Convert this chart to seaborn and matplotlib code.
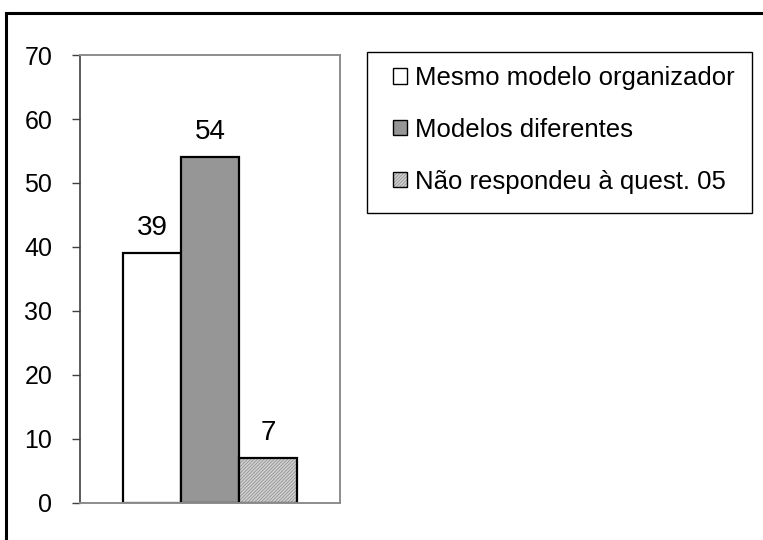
import matplotlib
matplotlib.use("Agg")
import matplotlib.pyplot as plt
import seaborn as sns
import pandas as pd
from matplotlib.patches import Rectangle, Patch

categories = ["Mesmo modelo organizador", "Modelos diferentes", "Não respondeu à quest. 05"]
values = [39, 54, 7]
yticks = [0, 10, 20, 30, 40, 50, 60, 70]

sns.set_style("white")
plt.rcParams['font.family'] = ['Liberation Sans', 'DejaVu Sans']
plt.rcParams['text.color'] = 'black'
plt.rcParams['ytick.labelcolor'] = 'black'
plt.rcParams['hatch.color'] = '#8a8a8a'
plt.rcParams['hatch.linewidth'] = 0.5

FS = 18
LFS = 18.5
BFS = 20

df = pd.DataFrame({"grupo": [""] * 3, "categoria": categories, "valor": values})

fig = plt.figure(figsize=(7.63, 5.40), dpi=100)
ax = fig.add_axes([80 / 763, 1 - 503 / 540, 260 / 763, 448 / 540])

face = ["#ffffff", "#969696", "#d0d0d0"]
hatches = ["", "", "//////////"]
sns.barplot(data=df, x="grupo", y="valor", hue="categoria", hue_order=categories,
            palette=face, ax=ax, width=0.67, gap=0, legend=False, saturation=1)


def set_hc(p, c):
    if hasattr(p, "set_hatchcolor"):
        p.set_hatchcolor(c)
    else:
        p._hatch_color = matplotlib.colors.to_rgba(c)


for patch, h in zip(ax.patches, hatches):
    patch.set_edgecolor("black")
    patch.set_linewidth(1.6)
    patch.set_hatch(h)
    set_hc(patch, "#8a8a8a")

for patch, v in zip(ax.patches, values):
    ax.text(patch.get_x() + patch.get_width() / 2, v + 2.8, str(v),
            ha="center", va="baseline", fontsize=BFS, color="black")

ax.set_ylim(0, 70)
ax.set_xlim(-0.5, 0.5)
ax.set_yticks(yticks)
ax.set_yticklabels([str(t) for t in yticks], fontsize=FS, color="black")
ax.set_xticks([])
ax.set_xlabel("")
ax.set_ylabel("")
ax.tick_params(axis="y", direction="out", length=6, width=1, color="#404040", pad=14, left=True)
ax.spines["left"].set_color("#404040")
ax.spines["left"].set_linewidth(1.2)
for s in ["top", "right", "bottom"]:
    ax.spines[s].set_color("#8c8c8c")
    ax.spines[s].set_linewidth(1.4)

handles = [Patch(facecolor=face[i], edgecolor="black", hatch=hatches[i], linewidth=1) for i in range(3)]
for hd in handles:
    set_hc(hd, "#8a8a8a")
leg = fig.legend(handles, categories, loc="upper left",
                 bbox_to_anchor=(393 / 763, 1 - 66 / 540),
                 bbox_transform=fig.transFigure, frameon=False,
                 fontsize=LFS, handlelength=0.55, handleheight=0.55,
                 handletextpad=0.3, labelspacing=1.08, borderpad=0,
                 borderaxespad=0)
for t in leg.get_texts():
    t.set_color("black")

# legend frame
fig.patches.append(Rectangle((367 / 763, 1 - 213 / 540), 385 / 763, 161 / 540,
                             transform=fig.transFigure, fill=False,
                             edgecolor="black", linewidth=1.0, zorder=5))

fig.patches.append(Rectangle((6 / 763, -0.1), 1.2, 1.1 - 13 / 540,
                             transform=fig.transFigure, fill=False,
                             edgecolor="black", linewidth=2.2, zorder=10))

fig.savefig("out.png", dpi=100)
